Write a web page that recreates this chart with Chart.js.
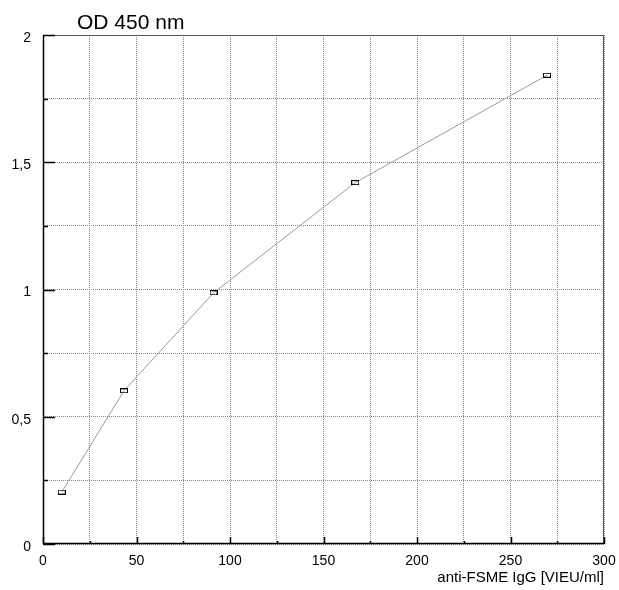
<!DOCTYPE html>
<html>
<head>
<meta charset="utf-8">
<script src="https://cdn.jsdelivr.net/npm/chart.js@4/dist/chart.umd.min.js"></script>
<style>
  html, body { margin: 0; padding: 0; background: #ffffff; }
  #wrap { width: 619px; height: 590px; position: relative; }
</style>
</head>
<body>
<div id="wrap"><canvas id="c" width="619" height="590"></canvas></div>
<script>
// ---- data ----
const concentrations = [10, 43.3, 91.2, 167, 269.5];
const odValues = [0.204, 0.602, 0.987, 1.42, 1.842];
const xTickLabels = ['0', '50', '100', '150', '200', '250', '300'];
const yTickLabels = ['0', '0,5', '1', '1,5', '2'];
const yAxisTitle = 'OD 450 nm';
const xAxisTitle = 'anti-FSME IgG [VIEU/ml]';

const FONT = '"Liberation Sans", Arial, sans-serif';

// marker image: small hollow rectangle
const marker = document.createElement('canvas');
marker.width = 8; marker.height = 5;
(function () {
  const m = marker.getContext('2d');
  m.strokeStyle = '#000';
  m.lineWidth = 1;
  m.strokeRect(0.5, 0.5, 7, 4);
})();

const points = concentrations.map((x, i) => ({ x: x, y: odValues[i] }));

const framePlugin = {
  id: 'frame',
  afterDatasetsDraw(chart) {
    const { ctx, chartArea: a, scales } = chart;
    ctx.save();
    // frame
    ctx.lineWidth = 1;
    ctx.strokeStyle = '#555';
    ctx.beginPath();
    ctx.moveTo(a.left, a.top + 0.5); ctx.lineTo(a.right, a.top + 0.5);
    ctx.moveTo(a.right - 0.5, a.top); ctx.lineTo(a.right - 0.5, a.bottom);
    ctx.stroke();
    ctx.strokeStyle = '#000';
    ctx.lineWidth = 1.5;
    ctx.beginPath();
    ctx.moveTo(a.left + 0.5, a.top); ctx.lineTo(a.left + 0.5, a.bottom);
    ctx.moveTo(a.left, a.bottom - 0.5); ctx.lineTo(a.right, a.bottom - 0.5);
    ctx.stroke();
    // inward ticks
    ctx.lineWidth = 1.5;
    ctx.beginPath();
    scales.x.ticks.forEach(t => {
      const px = Math.round(scales.x.getPixelForValue(t.value)) + 0.5;
      const len = (Math.round(t.value) % 50 === 0) ? 7 : 3;
      ctx.moveTo(px, a.bottom); ctx.lineTo(px, a.bottom - len);
    });
    scales.y.ticks.forEach(t => {
      const py = Math.round(scales.y.getPixelForValue(t.value)) + 0.5;
      const len = (Math.round(t.value * 100) % 50 === 0) ? 12 : 5;
      ctx.moveTo(a.left, py); ctx.lineTo(a.left + len, py);
    });
    ctx.stroke();
    // axis titles
    ctx.fillStyle = '#000';
    ctx.font = '21px ' + FONT;
    ctx.textAlign = 'left';
    ctx.textBaseline = 'alphabetic';
    ctx.fillText(yAxisTitle, 77, 29);
    ctx.font = '15px ' + FONT;
    ctx.textAlign = 'right';
    ctx.fillText(xAxisTitle, a.right, 582);
    ctx.restore();
  }
};

new Chart(document.getElementById('c'), {
  type: 'scatter',
  data: {
    datasets: [{
      data: points,
      showLine: true,
      borderColor: '#9a9a9a',
      borderWidth: 1,
      pointStyle: marker,
      pointRadius: 4,
      pointHoverRadius: 4,
      tension: 0
    }]
  },
  options: {
    responsive: false,
    animation: false,
    devicePixelRatio: 1,
    layout: { padding: { left: 0, right: 15, top: 35, bottom: 0 } },
    plugins: { legend: { display: false }, tooltip: { enabled: false }, title: { display: false } },
    scales: {
      x: {
        type: 'linear',
        min: 0, max: 300,
        afterFit(s) { s.height = 46; s.paddingLeft = 0; s.paddingRight = 0; },
        border: { display: false, dash: [1, 1] },
        grid: { color: '#8a8a8a', lineWidth: 1, drawTicks: false },
        ticks: {
          stepSize: 25,
          autoSkip: false,
          maxRotation: 0,
          padding: 9,
          color: '#000',
          font: { family: FONT, size: 14 },
          callback(v) {
            const i = xTickLabels.indexOf(String(v));
            return i >= 0 ? xTickLabels[i] : '';
          }
        }
      },
      y: {
        type: 'linear',
        min: 0, max: 2,
        afterFit(s) { s.width = 43; s.paddingTop = 0; s.paddingBottom = 0; },
        border: { display: false, dash: [1, 1] },
        grid: { color: '#8a8a8a', lineWidth: 1, drawTicks: false },
        ticks: {
          stepSize: 0.25,
          autoSkip: false,
          padding: 12,
          labelOffset: 3,
          color: '#000',
          font: { family: FONT, size: 14 },
          callback(v) {
            const idx = Math.round(v * 2);
            if (Math.abs(v * 2 - idx) > 1e-6) return '';
            return yTickLabels[idx] !== undefined ? yTickLabels[idx] : '';
          }
        }
      }
    }
  },
  plugins: [framePlugin]
});
</script>
</body>
</html>
